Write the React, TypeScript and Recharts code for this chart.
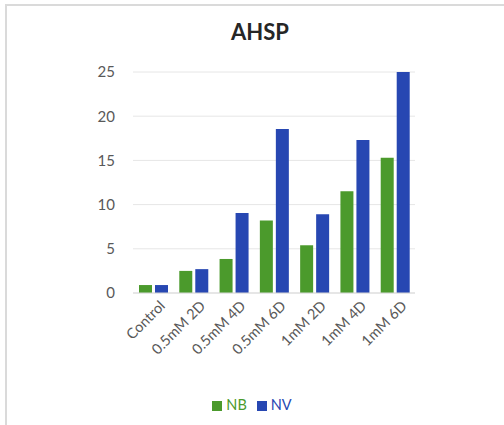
import React from 'react';
import { BarChart, Bar, XAxis, YAxis, CartesianGrid, Legend } from 'recharts';

const categories = ['Control', '0.5mM 2D', '0.5mM 4D', '0.5mM 6D', '1mM 2D', '1mM 4D', '1mM 6D'];
const nbValues = [0.9, 2.5, 3.85, 8.2, 5.4, 11.5, 15.3];
const nvValues = [0.9, 2.7, 9.05, 18.55, 8.9, 17.3, 25.0];
const yTicks = [0, 5, 10, 15, 20, 25];

const data = categories.map((name, i) => ({ name, NB: nbValues[i], NV: nvValues[i] }));

const FONT = 'Lato, "Open Sans", sans-serif';

function XTick(props: any) {
  const { x, y, payload } = props;
  return (
    <g transform={`translate(${x + 10},${y + 3})`}>
      <text textAnchor="end" transform="rotate(-45)" fill="#595959" fontSize={14.5} fontFamily={FONT} dy={4}>
        {payload.value}
      </text>
    </g>
  );
}

export default function App() {
  return (
    <div style={{ position: 'fixed', left: 0, top: 0, width: 504, height: 425, overflow: 'hidden', background: '#fff' }}>
      <div
        style={{
          position: 'absolute', left: 5, top: 4, width: 520, height: 440,
          borderLeft: '2px solid #dadada', borderTop: '2px solid #dadada', boxSizing: 'border-box',
        }}
      />
      <div
        style={{
          position: 'absolute', left: 0, top: 18, width: 520, textAlign: 'center',
          fontFamily: FONT, fontWeight: 700, fontSize: 22, color: '#262626',
        }}
      >
        AHSP
      </div>
      <div style={{ position: 'absolute', left: 0, top: 0 }}>
        <BarChart
          width={504}
          height={425}
          data={data}
          margin={{ top: 72, right: 89, left: 0, bottom: 12 }}
          barGap={3}
          barCategoryGap={6}
        >
          <CartesianGrid vertical={false} stroke="#e6e6e6" />
          <XAxis
            dataKey="name"
            interval={0}
            height={103}
            tickLine={false}
            axisLine={{ stroke: '#d9d9d9' }}
            tick={<XTick />}
          />
          <YAxis
            width={133}
            domain={[0, 25]}
            ticks={yTicks}
            tickLine={false}
            axisLine={false}
            tickMargin={12}
            tick={{ fill: '#595959', fontSize: 15, fontFamily: FONT }}
          />
          <Legend
            verticalAlign="bottom"
            iconType="square"
            iconSize={10}
            wrapperStyle={{ fontFamily: FONT, fontSize: 14.5, color: '#595959', left: 0, width: 514 }}
          />
          <Bar dataKey="NB" fill="#4b9a2c" isAnimationActive={false} />
          <Bar dataKey="NV" fill="#2747b2" isAnimationActive={false} />
        </BarChart>
      </div>
    </div>
  );
}
